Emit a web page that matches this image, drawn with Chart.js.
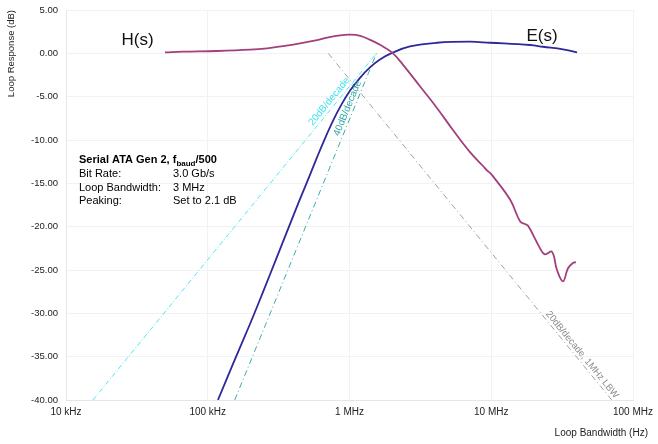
<!DOCTYPE html>
<html>
<head>
<meta charset="utf-8">
<script src="https://cdn.jsdelivr.net/npm/chart.js@4.4.1/dist/chart.umd.min.js"></script>
<style>
    html, body { margin: 0; padding: 0; background: #fff; }
    #wrap { width: 658px; height: 444px; }
</style>
</head>
<body>
<div id="wrap"><canvas id="loopChart" width="658" height="444"></canvas></div>
<script>
// H(s) - jitter transfer
const hFreq = [49.9e3, 66.8e3, 116e3, 199e3, 262e3, 340e3, 448e3, 590e3, 694e3, 857e3, 1.01e6, 1.19e6, 1.40e6, 1.64e6, 2.0e6, 2.38e6, 3.14e6, 4.14e6, 5.37e6, 7.08e6, 8.75e6, 9.33e6, 9.8e6, 10.3e6, 13.6e6, 16.0e6, 17.3e6, 18.2e6, 22.1e6, 23.9e6, 26.8e6, 29.1e6, 32.1e6, 34.8e6, 37.7e6, 39.6e6];
const hDb   = [0.12, 0.19, 0.27, 0.42, 0.58, 0.84, 1.15, 1.52, 1.80, 2.07, 2.15, 2.02, 1.55, 0.98, 0.08, -1.3, -3.8, -6.3, -8.85, -11.4, -13.0, -13.5, -13.8, -14.2, -16.9, -19.4, -19.7, -19.9, -22.5, -23.2, -22.9, -25.0, -26.3, -24.8, -24.2, -24.1];

// E(s) - error transfer
const eFreq = [118e3, 151e3, 199e3, 246e3, 306e3, 370e3, 448e3, 527e3, 587e3, 672e3, 769e3, 871e3, 1.01e6, 1.19e6, 1.40e6, 1.64e6, 2.0e6, 2.67e6, 4.14e6, 7.08e6, 9.8e6, 18.8e6, 23.2e6, 32.1e6, 40.3e6];
const eDb   = [-40, -35.8, -31.2, -27.5, -23.6, -20.2, -16.8, -14.0, -12.1, -9.8, -7.7, -6.0, -4.3, -2.8, -1.6, -0.7, 0.05, 0.8, 1.22, 1.34, 1.22, 0.96, 0.76, 0.46, 0.12];

// asymptotes
const slope20Freq = [15.5e3, 1.55e6];
const slope20Db   = [-40, 0];
const slope40Freq = [155e3, 1.55e6];
const slope40Db   = [-40, 0];
const lbwFreq = [708e3, 70.8e6];
const lbwDb   = [0, -40];

const xTickValues = [1e4, 1e5, 1e6, 1e7, 1e8];
const xTickLabels = ['10 kHz', '100 kHz', '1 MHz', '10 MHz', '100 MHz'];

const infoRows = [
    ['Bit Rate:', '3.0 Gb/s'],
    ['Loop Bandwidth:', '3 MHz'],
    ['Peaking:', 'Set to 2.1 dB']
];

const FONT = "'Liberation Sans', Arial, Helvetica, sans-serif";
Chart.defaults.font.family = FONT;

const toXY = (fs, ds) => fs.map((f, i) => ({ x: f, y: ds[i] }));

function drawAlong(ctx, x, y, fs, ds, t, text, color, size) {
    const x0 = x.getPixelForValue(fs[0]), y0 = y.getPixelForValue(ds[0]);
    const x1 = x.getPixelForValue(fs[1]), y1 = y.getPixelForValue(ds[1]);
    const ang = Math.atan2(y1 - y0, x1 - x0);
    ctx.save();
    ctx.translate(x0 + (x1 - x0) * t, y0 + (y1 - y0) * t);
    ctx.rotate(ang);
    ctx.fillStyle = color;
    ctx.font = size + 'px ' + FONT;
    ctx.textAlign = 'center';
    ctx.textBaseline = 'bottom';
    ctx.fillText(text, 0, -1);
    ctx.restore();
}

const textPlugin = {
    id: 'loopText',
    afterDatasetsDraw(chart) {
        const { ctx, chartArea, scales: { x, y } } = chart;
        ctx.save();

        drawAlong(ctx, x, y, slope20Freq, slope20Db, 0.85, '20dB/decade', '#3fe0ef', 10);
        drawAlong(ctx, x, y, slope40Freq, slope40Db, 0.835, '40dB/decade', '#2fa6a6', 10);
        drawAlong(ctx, x, y, lbwFreq, lbwDb, 0.88, '20dB/decade, 1MHz LBW', '#8c8c8c', 9.5);

        // curve names
        ctx.fillStyle = '#111';
        ctx.font = '17px ' + FONT;
        ctx.textAlign = 'center';
        ctx.textBaseline = 'middle';
        ctx.fillText('H(s)', x.getPixelForValue(32e3), y.getPixelForValue(1.5));
        ctx.fillText('E(s)', x.getPixelForValue(22.8e6), y.getPixelForValue(2.0));

        // info block
        const lx = chartArea.left + 13, vx = chartArea.left + 107;
        const by = 163;
        ctx.textAlign = 'left';
        ctx.textBaseline = 'alphabetic';
        ctx.fillStyle = '#000';
        ctx.font = 'bold 11px ' + FONT;
        const t = 'Serial ATA Gen 2, f';
        ctx.fillText(t, lx, by);
        let cx = lx + ctx.measureText(t).width;
        ctx.font = 'bold 8px ' + FONT;
        ctx.fillText('baud', cx, by + 3);
        cx += ctx.measureText('baud').width;
        ctx.font = 'bold 11px ' + FONT;
        ctx.fillText('/500', cx, by);

        ctx.font = '11px ' + FONT;
        infoRows.forEach((r, i) => {
            const yy = by + 13.8 * (i + 1);
            ctx.fillText(r[0], lx, yy);
            ctx.fillText(r[1], vx, yy);
        });

        // x axis title
        ctx.font = '10px ' + FONT;
        ctx.fillStyle = '#222';
        ctx.textAlign = 'right';
        ctx.textBaseline = 'middle';
        ctx.fillText('Loop Bandwidth (Hz)', 648, 433);
        ctx.restore();
    }
};

const ctx = document.getElementById('loopChart').getContext('2d');
new Chart(ctx, {
    type: 'line',
    data: {
        datasets: [
            {
                label: 'H(s)',
                data: toXY(hFreq, hDb),
                borderColor: '#a23f7c',
                borderWidth: 1.8,
                pointRadius: 0,
                tension: 0.4
            },
            {
                label: 'E(s)',
                data: toXY(eFreq, eDb),
                borderColor: '#2f2898',
                borderWidth: 1.8,
                pointRadius: 0,
                tension: 0.4
            },
            {
                label: '20dB/decade',
                data: toXY(slope20Freq, slope20Db),
                borderColor: '#4fe6f2',
                borderWidth: 1,
                borderDash: [5, 2, 1, 2],
                pointRadius: 0
            },
            {
                label: '40dB/decade',
                data: toXY(slope40Freq, slope40Db),
                borderColor: '#3aabab',
                borderWidth: 1,
                borderDash: [6, 3, 1, 3],
                pointRadius: 0
            },
            {
                label: '20dB/decade, 1MHz LBW',
                data: toXY(lbwFreq, lbwDb),
                borderColor: '#a0a0a0',
                borderWidth: 1,
                borderDash: [6, 3, 1, 3],
                pointRadius: 0
            }
        ]
    },
    options: {
        responsive: false,
        animation: false,
        layout: { padding: { top: 10, right: 25, left: 0, bottom: 0 } },
        plugins: {
            legend: { display: false },
            tooltip: { enabled: false }
        },
        scales: {
            x: {
                type: 'logarithmic',
                min: 1e4,
                max: 1e8,
                afterBuildTicks: (s) => { s.ticks = xTickValues.map(v => ({ value: v })); },
                afterFit: (s) => { s.height = 44; },
                ticks: {
                    callback: (v, i) => xTickLabels[i],
                    color: '#222',
                    font: { size: 10 },
                    padding: 0,
                    maxRotation: 0,
                    autoSkip: false
                },
                grid: { color: '#f2f2f2', tickLength: 6, tickColor: 'rgba(0,0,0,0)' },
                border: { color: '#e6e6e6' }
            },
            y: {
                min: -40,
                max: 5,
                afterFit: (s) => { s.width = 66; },
                ticks: {
                    stepSize: 5,
                    callback: (v) => Number(v).toFixed(2),
                    color: '#222',
                    font: { size: 9.5 },
                    padding: 0
                },
                grid: { color: '#f2f2f2', tickLength: 8, tickColor: 'rgba(0,0,0,0)' },
                border: { color: '#e6e6e6' },
                title: {
                    display: true,
                    text: 'Loop Response (dB)',
                    align: 'end',
                    color: '#222',
                    font: { size: 9.5 },
                    padding: { top: 6, bottom: 0 }
                }
            }
        }
    },
    plugins: [textPlugin]
});
</script>
</body>
</html>
